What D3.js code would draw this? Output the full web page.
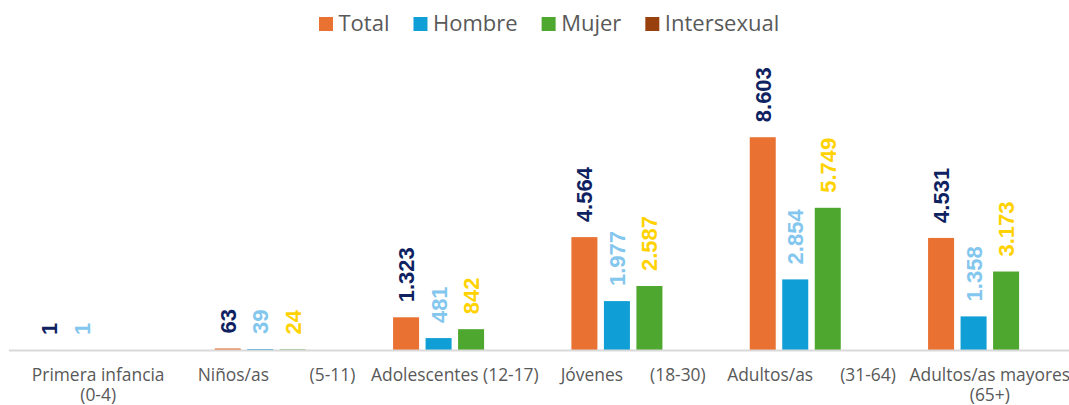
<html>
	<head>
		<title>Población por grupo de edad</title>
		<style>
			body { margin: 0; background: #ffffff; }
			svg { display: block; }
		</style>
	</head>
	<body>

		<div id="chart"></div>

		<script src="https://cdn.jsdelivr.net/npm/d3@7"></script>
		<script>
			// categories (each entry = lines of the tick label)
			var categories = ["Primera infancia (0-4)", "Niños/as (5-11)", "Adolescentes (12-17)", "Jóvenes (18-30)", "Adultos/as (31-64)", "Adultos/as mayores (65+)"];
			var tickLabels = [
				["Primera infancia", "(0-4)"],
				["Niños/as         (5-11)"],
				["Adolescentes (12-17)"],
				["Jóvenes      (18-30)"],
				["Adultos/as      (31-64)"],
				["Adultos/as mayores", "(65+)"]
			];
			var series = ["Total", "Hombre", "Mujer", "Intersexual"];

			// values per series
			var total       = [1, 63, 1323, 4564, 8603, 4531];
			var hombre      = [1, 39, 481, 1977, 2854, 1358];
			var mujer       = [0, 24, 842, 2587, 5749, 3173];
			var intersexual = [0, 0, 0, 0, 0, 0];

			var seriesValues = [total, hombre, mujer, intersexual];
			var barColors = ["#E97132", "#0F9ED5", "#4EA72E", "#99400F"];
			var labelColors = ["#0E2160", "#83C6EE", "#FFD200", "#99400F"];

			var width = 1069;
			var height = 405;
			var baseline = 350;

			var svg = d3.select("#chart")
						.append("svg")
							.attr("width", width)
							.attr("height", height);

			// scales
			var x0 = d3.scaleBand()
						.domain(categories)
						.range([9, 1079])
						.paddingInner(0)
						.paddingOuter(0);

			var x1 = d3.scaleBand()
						.domain(series)
						.range([0, x0.bandwidth()])
						.paddingInner(0.2)
						.paddingOuter(0.843);

			var y = d3.scaleLinear()
						.domain([0, 12000])
						.range([baseline, 53.2]);

			// flatten data
			var rows = [];
			categories.forEach(function(c, i){
				series.forEach(function(s, j){
					rows.push({cat: c, ser: s, si: j, value: seriesValues[j][i]});
				});
			});

			// bars
			svg.append("g")
				.selectAll("rect")
				.data(rows)
				.enter().append("rect")
					.attr("x", function(d){ return x0(d.cat) + x1(d.ser); })
					.attr("y", function(d){ return y(d.value); })
					.attr("width", x1.bandwidth())
					.attr("height", function(d){ return baseline - y(d.value); })
					.style("fill", function(d){ return barColors[d.si]; });

			// axis
			var xAxis = d3.axisBottom(x0).tickSize(0).tickPadding(0);
			var axisG = svg.append("g")
							.attr("transform", "translate(0," + baseline + ")")
							.call(xAxis);
			axisG.select(".domain")
				.attr("d", "M9,0.5H1069")
				.style("stroke", "#D9D9D9")
				.style("stroke-width", 2);

			axisG.selectAll(".tick text")
				.each(function(d, i){
					var t = d3.select(this);
					t.text(null)
						.attr("y", 0)
						.attr("dy", null)
						.style("font-family", "'Open Sans', sans-serif")
						.style("font-size", "17.4px")
						.style("fill", "#595959")
						.attr("xml:space", "preserve")
						.style("white-space", "pre");
					tickLabels[i].forEach(function(line, k){
						t.append("tspan")
							.attr("x", 0)
							.attr("y", 31 + k * 20)
							.text(line);
					});
				});

			// data labels
			svg.append("g")
				.selectAll("text")
				.data(rows.filter(function(d){ return d.value > 0; }))
				.enter().append("text")
					.attr("transform", function(d){
						var cx = x0(d.cat) + x1(d.ser) + x1.bandwidth() / 2;
						return "translate(" + cx + "," + (y(d.value) - 15) + ") rotate(-90)";
					})
					.attr("dy", "0.36em")
					.style("text-anchor", "start")
					.style("font-family", "'Liberation Sans', Arial, sans-serif")
					.style("font-weight", "bold")
					.style("font-size", "22px")
					.style("fill", function(d){ return labelColors[d.si]; })
					.text(function(d){ return d3.format(",")(d.value).replace(/,/g, "."); });

			// legend
			var legend = svg.append("g");
			var lx = 319;
			series.forEach(function(s, j){
				legend.append("rect")
					.attr("x", lx)
					.attr("y", 17)
					.attr("width", 14)
					.attr("height", 14)
					.style("fill", barColors[j]);
				var txt = legend.append("text")
					.attr("x", lx + 19.5)
					.attr("y", 31)
					.style("font-family", "'Open Sans', sans-serif")
					.style("font-size", "22px")
					.style("fill", "#595959")
					.text(s);
				lx = lx + 19.5 + txt.node().getComputedTextLength() + 24;
			});
		</script>

	</body>
</html>
